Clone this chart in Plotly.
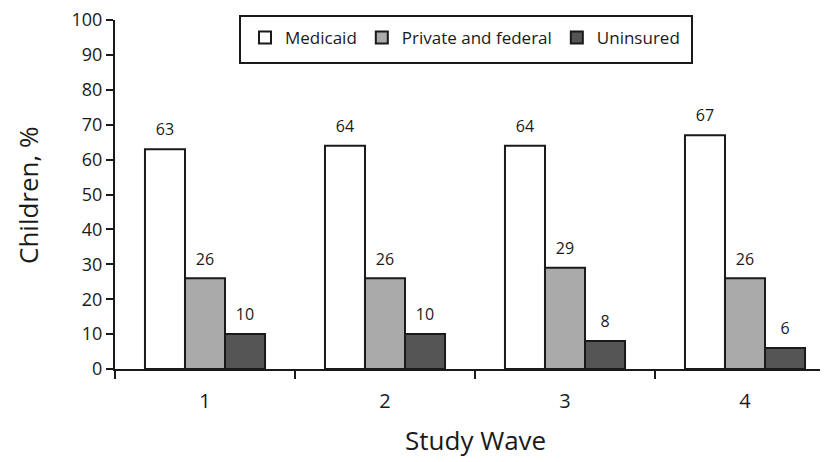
import plotly.graph_objects as go

waves = ["1", "2", "3", "4"]
medicaid = [63, 64, 64, 67]
private_federal = [26, 26, 29, 26]
uninsured = [10, 10, 8, 6]

series = [
    ("Medicaid", medicaid, "#ffffff"),
    ("Private and federal", private_federal, "#aaaaaa"),
    ("Uninsured", uninsured, "#555555"),
]

FONT = "Open Sans, Noto Sans, sans-serif"
INK = "#1a1a1a"

# page body has an 8px margin; work in window pixels and convert
OX, OY = 8, 8
FW, FH = 828 - OX, 462 - OY
L, T, W, H = 115 - OX, 20 - OY, 713, 349  # plot area (figure px)


def px(xw):
    return (xw - OX - L) / W


def py(yw):
    return (T + H - (yw - OY)) / H


fig = go.Figure()
for i, (name, vals, color) in enumerate(series):
    fig.add_trace(go.Bar(
        name=name, x=waves, y=vals, offsetgroup=str(i),
        marker=dict(color=color, line=dict(color=INK, width=2)),
    ))
for i, (name, vals, color) in enumerate(series):
    fig.add_trace(go.Scatter(
        x=waves, y=vals, offsetgroup=str(i), mode="markers+text",
        text=[str(v) for v in vals], textposition="top center",
        textfont=dict(size=16, color=INK, family=FONT),
        marker=dict(size=14, opacity=0, color=color),
        showlegend=False, hoverinfo="skip", cliponaxis=False,
    ))

fig.update_layout(
    width=FW, height=FH,
    margin=dict(l=L, r=FW - L - W, t=T, b=FH - T - H, autoexpand=False),
    paper_bgcolor="white", plot_bgcolor="white",
    barmode="group", bargap=0.333, bargroupgap=0,
    scattermode="group", scattergap=0.333,
    font=dict(family=FONT, color=INK),
    showlegend=True,
    legend=dict(
        orientation="h", x=px(245), y=py(20), xanchor="left", yanchor="top",
        borderwidth=0, bgcolor="rgba(0,0,0,0)",
        font=dict(size=17, family=FONT, color=INK),
        traceorder="normal",
    ),
    shapes=[dict(type="rect", xref="paper", yref="paper",
                 x0=px(240), x1=px(692), y0=py(63), y1=py(16),
                 line=dict(color=INK, width=2), fillcolor="white", layer="below")],
    xaxis=dict(
        type="category", range=[-0.5, 3.5 - (835 - 828) / 180], automargin=False,
        showline=True, linecolor=INK, linewidth=2,
        ticks="outside", tickson="boundaries", ticklen=8, tickwidth=2, tickcolor=INK,
        tickfont=dict(size=20, family=FONT, color=INK), ticklabelstandoff=13,
        showgrid=False, zeroline=False,
    ),
    yaxis=dict(
        range=[0, 100], tickvals=list(range(0, 101, 10)), automargin=False,
        showline=True, linecolor=INK, linewidth=2,
        ticks="outside", ticklen=7, tickwidth=2, tickcolor=INK,
        tickfont=dict(size=18, family=FONT, color=INK), ticklabeloverflow="allow",
        showgrid=False, zeroline=False,
    ),
    annotations=[
        dict(text="Children, %", xref="paper", yref="paper",
             x=px(28), y=py(195), textangle=-90,
             showarrow=False, xanchor="center", yanchor="middle",
             font=dict(size=26, family=FONT, color=INK)),
        dict(text="Study Wave", xref="paper", yref="paper",
             x=px(475), y=py(440),
             showarrow=False, xanchor="center", yanchor="middle",
             font=dict(size=26, family=FONT, color=INK)),
    ],
)

fig.write_html("out.html")
